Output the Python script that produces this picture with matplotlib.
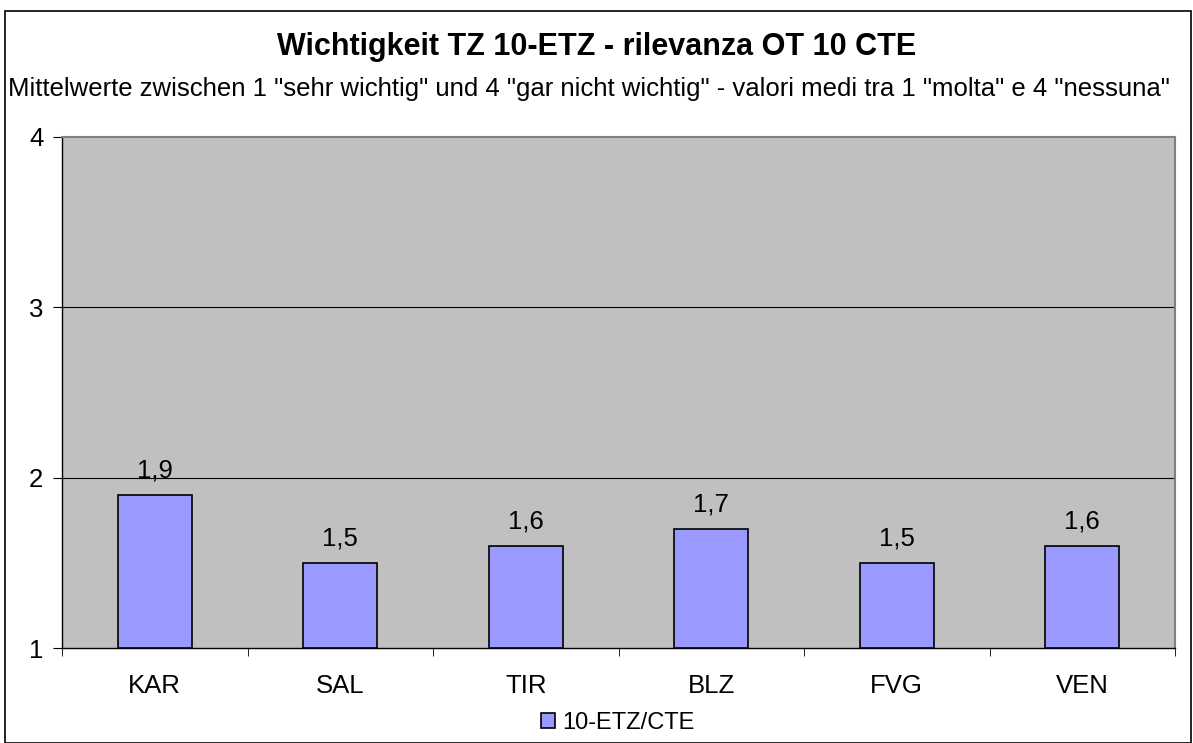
import matplotlib.pyplot as plt
from matplotlib.patches import Rectangle

plt.rcParams['font.family'] = ['Liberation Sans', 'DejaVu Sans']

regions = ["KAR", "SAL", "TIR", "BLZ", "FVG", "VEN"]
values = [1.9, 1.5, 1.6, 1.7, 1.5, 1.6]
value_labels = ["1,9", "1,5", "1,6", "1,7", "1,5", "1,6"]
series_name = "10-ETZ/CTE"
y_ticks = [1, 2, 3, 4]

fig = plt.figure(figsize=(11.93, 7.43), dpi=100)
W, H = 1193, 743

# outer chart frame
fig.patches.append(Rectangle((5 / W, 0), 1186 / W, (743 - 11) / H, transform=fig.transFigure,
                             fill=False, edgecolor='black', linewidth=1.2))

ax = fig.add_axes([62 / W, 1 - 648 / H, (1175 - 62) / W, (648 - 137) / H])
ax.set_facecolor('#C0C0C0')

x = list(range(len(regions)))
bars = ax.bar(x, [v - 1 for v in values], bottom=1, width=0.4, color='#9999FF',
              edgecolor='black', linewidth=1.2, label=series_name, zorder=3)
for xi, v, lab in zip(x, values, value_labels):
    ax.text(xi, v + 0.07, lab, ha='center', va='bottom', fontsize=18.5)

ax.set_xlim(-0.5, len(regions) - 0.5)
ax.set_ylim(1, 4)
ax.set_yticks(y_ticks)
ax.set_yticklabels([str(t) for t in y_ticks], fontsize=18.5)
for t in y_ticks[1:-1]:
    ax.axhline(t, color='black', linewidth=0.8, zorder=1)

ax.set_xticks(x)
ax.set_xticklabels(regions, fontsize=18.5)
ax.tick_params(axis='x', length=0, pad=19)
ax.set_xticks([i - 0.5 for i in range(len(regions) + 1)], minor=True)
ax.tick_params(axis='x', which='minor', length=6, direction='out', color='black')
ax.tick_params(axis='y', length=6.5, direction='out', pad=7)

for s in ['top', 'right']:
    ax.spines[s].set_color('#808080')
    ax.spines[s].set_linewidth(1.5)
for s in ['left', 'bottom']:
    ax.spines[s].set_color('black')
    ax.spines[s].set_linewidth(1)

fig.text(0.5, 1 - 47 / H, "Wichtigkeit TZ 10-ETZ - rilevanza OT 10 CTE", ha='center', va='center',
         fontsize=22, fontweight='bold')
fig.text(589 / W, 1 - 89 / H,
         'Mittelwerte zwischen 1 "sehr wichtig" und 4 "gar nicht wichtig" - valori medi tra 1 "molta" e 4 "nessuna"',
         ha='center', va='center', fontsize=18.5)

fig.legend(handles=[bars], labels=[series_name], loc='center', bbox_to_anchor=(618 / W, 1 - 723 / H),
           frameon=False, fontsize=17, handlelength=0.6, handleheight=0.6, handletextpad=0.3)

fig.savefig('out.png', dpi=100)
